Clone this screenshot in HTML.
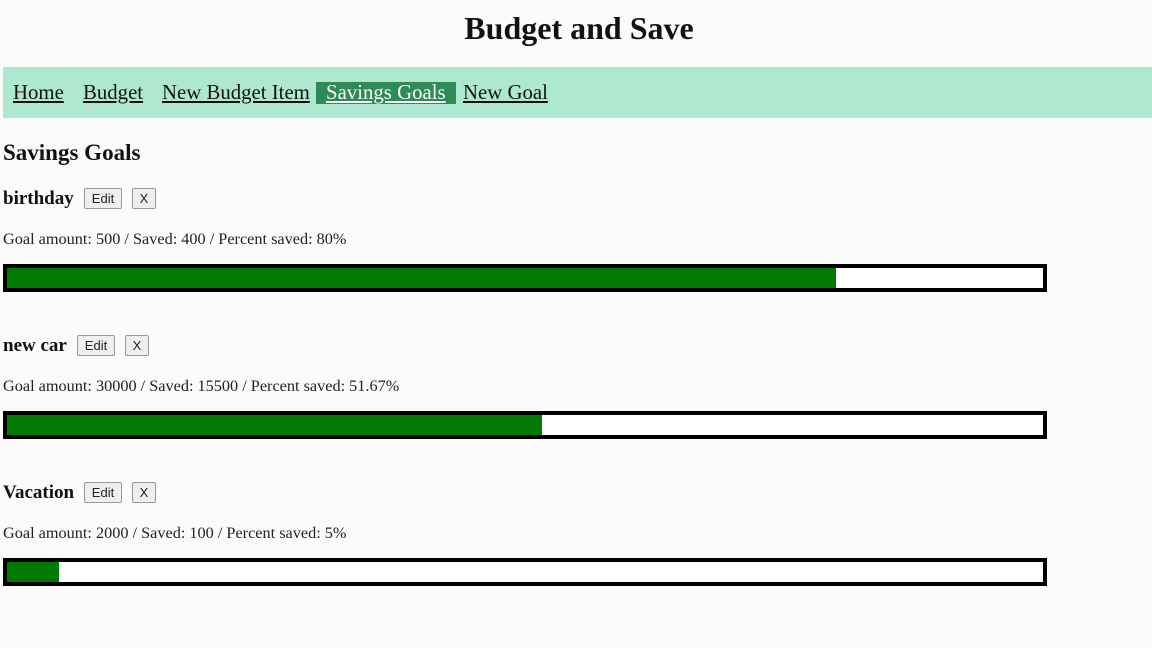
<!DOCTYPE html>
<html><head><meta charset="utf-8">
<style>
body{margin:0;width:1152px;height:648px;background:#fbfbfb;font-family:"Liberation Serif",serif;color:#111;position:relative;overflow:hidden}
.abs{position:absolute;white-space:nowrap}
h1{position:absolute;left:0;width:1158px;top:8px;margin:0;text-align:center;font-size:32px;font-weight:bold;line-height:40px}
#nav{position:absolute;left:3px;top:67px;width:1149px;height:51px;background:#aee8d0}
#nav a{position:absolute;top:14px;font-size:20.8px;line-height:24px;color:#111;text-decoration:underline}
#nav a.active{background:#2e8b57;color:#fff;padding:0 10px;top:15px;line-height:22px}
h2{position:absolute;left:3px;top:139px;margin:0;font-size:23px;line-height:28px}
.name{font-size:19px;font-weight:bold;line-height:22px}
.btn{position:absolute;height:19px;border:1px solid #999;border-radius:2px;background:#efefef;font-family:"Liberation Sans",sans-serif;font-size:13px;line-height:19px;text-align:center;color:#222}
.info{font-size:16.25px;line-height:20px;color:#222}
.bar{position:absolute;left:3px;width:1036px;height:20px;border:4px solid #000;background:#fff}
.fill{position:absolute;left:0;top:0;height:20px;background:#007a00}
</style></head><body>
<h1>Budget and Save</h1>
<div id="nav">
<a style="left:10px">Home</a>
<a style="left:80px">Budget</a>
<a style="left:159px">New Budget Item</a>
<a class="active" style="left:313px">Savings Goals</a>
<a style="left:460px">New Goal</a>
</div>
<h2>Savings Goals</h2>
<div id="goals"></div>
<script>
const goalNames=["birthday","new car","Vacation"];
const goalAmounts=[500,30000,2000];
const savedAmounts=[400,15500,100];
const percentLabels=["80%","51.67%","5%"];
const root=document.getElementById('goals');
const editLeft=[84,77,84];
goalNames.forEach((n,i)=>{
  const y=186+i*147;
  const g=document.createElement('div');
  
  
  const nm=document.createElement('div');nm.className='abs name';nm.style.left='3px';nm.style.top=(y+2)+'px';nm.textContent=n;
  
  
  g.appendChild(nm);
  const e=document.createElement('div');e.className='btn';e.style.left=editLeft[i]+'px';e.style.width='36px';e.style.top=(y+2)+'px';e.textContent='Edit';
  
  
  g.appendChild(e);
  const x=document.createElement('div');x.className='btn';x.style.left=(editLeft[i]+48)+'px';x.style.width='22px';x.style.top=(y+2)+'px';x.textContent='X';
  
  
  g.appendChild(x);
  const inf=document.createElement('div');inf.className='abs info';inf.style.left='3px';inf.style.top=(y+43)+'px';
  inf.textContent='Goal amount: '+goalAmounts[i]+' / Saved: '+savedAmounts[i]+' / Percent saved: '+percentLabels[i];
  
  
  g.appendChild(inf);
  const b=document.createElement('div');b.className='bar';b.style.top=(y+78)+'px';
  
  
  const f=document.createElement('div');f.className='fill';f.style.width=(1036*savedAmounts[i]/goalAmounts[i])+'px';
  
  
  b.appendChild(f);g.appendChild(b);
  root.appendChild(g);
});
</script>
</body></html>
